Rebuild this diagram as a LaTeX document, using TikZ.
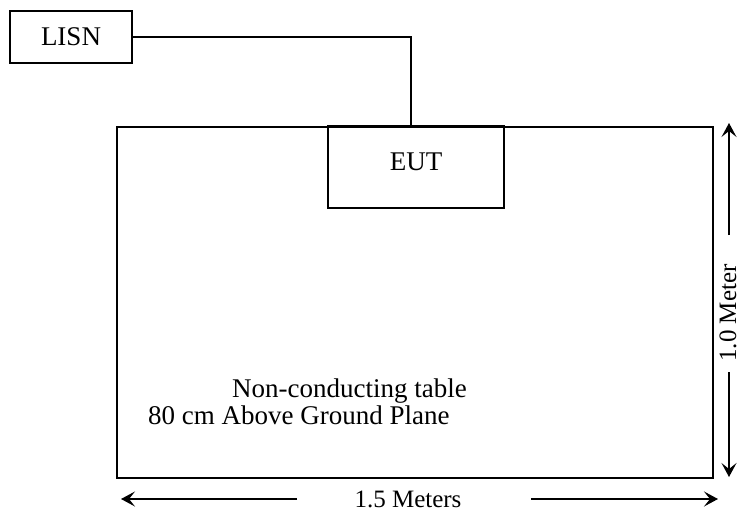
\documentclass[tikz,border=0pt]{standalone}
\usepackage{fontspec}
\setmainfont{Liberation Serif}
\usetikzlibrary{arrows.meta}

\begin{document}
\begin{tikzpicture}[x=1pt, y=-1pt,
  every node/.style={font=\fontsize{27}{29}\selectfont, inner sep=0pt},
  box/.style={draw, line width=1.3pt},
  dimtext/.style={font=\fontsize{25}{27}\selectfont},
  dimline/.style={line width=1.4pt, -{Stealth[length=14pt, width=15pt, inset=6pt]}}]

\useasboundingbox (0,0) rectangle (741,513);

%% Table outline and EUT on it
\node[box, minimum width=596pt, minimum height=351pt] (table) at (415,302.5) {};
\node[box, minimum width=176pt, minimum height=82pt] (eut) at (416,167) {};
\node (euttext) at (416,162) {EUT};

%% LISN and its cable
\node[box, minimum width=122pt, minimum height=52pt] (lisn) at (71,37) {LISN};
\draw[line width=1.3pt] (lisn.east) -| ([xshift=-5pt]eut.north);

%% Table labels
\node[anchor=base west] (label1) at (232,397) {Non-conducting table};
\node[anchor=base west] (label2) at (148,424) {80 cm Above Ground Plane};

%% Width: 1.5 m
\node[dimtext] (width) at (408,499) {1.5 Meters};
\coordinate (wa) at (297,499);
\coordinate (wl) at (121,499);
\coordinate (wb) at (531,499);
\coordinate (wr) at (718,499);
\draw[dimline] (wa) -- (wl);
\draw[dimline] (wb) -- (wr);

%% Depth: 1.0 m
\node[dimtext, rotate=90] (depth) at (728,313) {1.0 Meter};
\coordinate (da) at (729,235);
\coordinate (dt) at (729,123);
\coordinate (db) at (729,372);
\coordinate (dd) at (729,477);
\draw[dimline] (da) -- (dt);
\draw[dimline] (db) -- (dd);

\end{tikzpicture}
\end{document}
